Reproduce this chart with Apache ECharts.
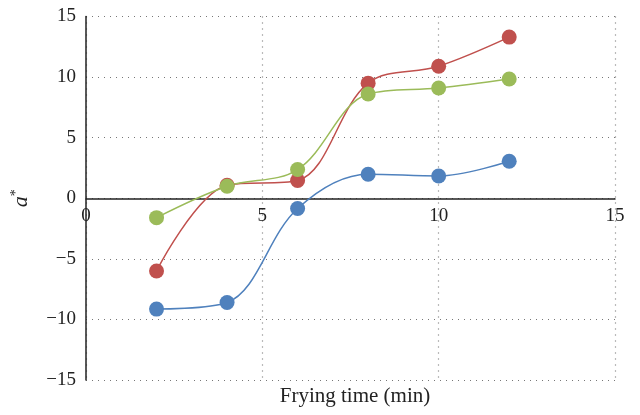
<!DOCTYPE html>
<html><head><meta charset="utf-8">
<script src="https://cdn.jsdelivr.net/npm/echarts@6/dist/echarts.min.js"></script>
<style>html,body{margin:0;padding:0;background:#fff}#c{width:640px;height:415px}</style>
</head><body><div id="c"></div>
<script>
const times = [2, 4, 6, 8, 10, 12];
const blueVals = [-9.15, -8.6, -0.85, 1.98, 1.84, 3.05];
const redVals = [-6.0, 1.07, 1.46, 9.5, 10.9, 13.3];
const greenVals = [-1.6, 0.99, 2.37, 8.6, 9.1, 9.84];
const xTicks = [0, 5, 10, 15];
const yTicks = [-15, -10, -5, 0, 5, 10, 15];

const font = 'Liberation Serif';
function pairs(v){ return times.map((t,i)=>[t,v[i]]); }
function ser(vals,color){
  return {type:'line', data:pairs(vals), smooth:0.35, symbol:'circle', symbolSize:15,
    lineStyle:{color:color,width:1.5}, itemStyle:{color:color}, z:3};
}
const gridTop = 16.5, gridBottom = 35, H = 415;
const plotH = H - gridTop - gridBottom;
const chart = echarts.init(document.getElementById('c'));
chart.setOption({
  animation:false,
  grid:{left:86,right:25,top:gridTop,bottom:gridBottom,containLabel:false,outerBoundsMode:'none'},
  xAxis:[{type:'value',min:xTicks[0],max:xTicks[xTicks.length-1],interval:5,
    axisLine:{show:false},axisTick:{show:false},axisLabel:{show:false},
    splitLine:{show:true,lineStyle:{color:'#777',type:[1,5],width:1.2}}},
    {type:'value',min:xTicks[0],max:xTicks[xTicks.length-1],interval:5,position:'bottom',
    offset:-plotH/2,
    axisLine:{onZero:false,show:true,lineStyle:{color:'#222',width:1.5}},
    axisTick:{show:false},
    axisLabel:{fontFamily:font,fontSize:19,color:'#222',margin:8},
    splitLine:{show:false}}],
  yAxis:{type:'value',min:yTicks[0],max:yTicks[yTicks.length-1],interval:5,
    axisLine:{show:true,onZero:false,lineStyle:{color:'#222',width:1.5}},
    axisTick:{show:false},
    axisLabel:{fontFamily:font,fontSize:19,color:'#222',margin:10,
      formatter:v=>String(v).replace('-','\u2212')},
    splitLine:{show:true,lineStyle:{color:'#777',type:[1,5],width:1.2}},
    name:'{a|a}{s|*}',nameLocation:'middle',nameRotate:90,nameGap:53,
    nameTextStyle:{rich:{a:{fontFamily:font,fontStyle:'italic',fontSize:22,color:'#222'},
      s:{fontFamily:font,fontSize:14,color:'#222',padding:[0,0,10,0]}}}},
  graphic:[{type:'text',x:355,y:386,style:{text:'Frying time (min)',textAlign:'center',
    font:'21px "Liberation Serif"',fill:'#222'}}],
  series:[ser(blueVals,'#4f81bd'),ser(redVals,'#c0504d'),ser(greenVals,'#9bbb59')]
});
</script></body></html>
